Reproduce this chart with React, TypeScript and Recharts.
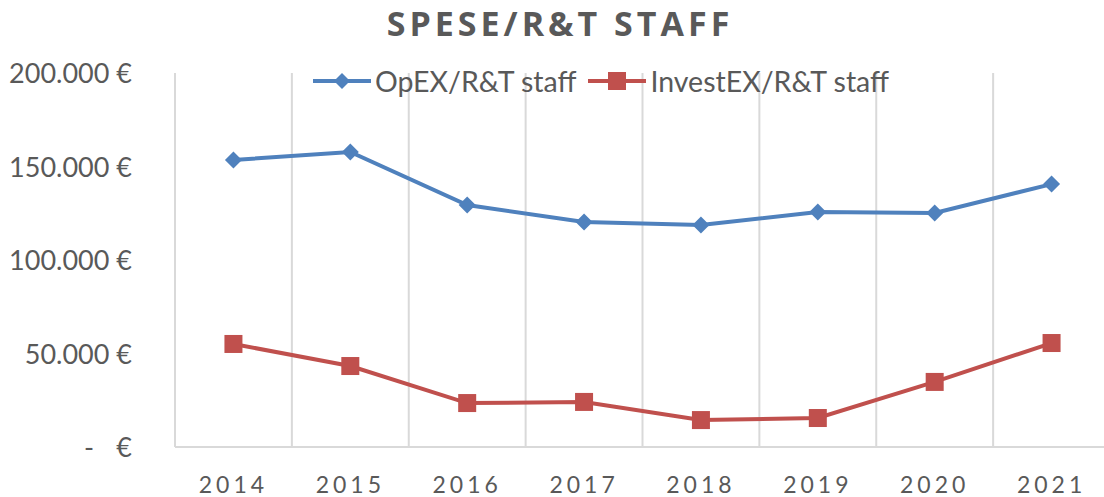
import { LineChart, Line, XAxis, YAxis, CartesianGrid } from 'recharts';

const years = ['2014', '2015', '2016', '2017', '2018', '2019', '2020', '2021'];
const opex = [153500, 157800, 129400, 120300, 118700, 125700, 125100, 140600];
const investex = [55100, 43300, 23500, 24100, 14400, 15500, 34800, 55600];
const yTicks = [0, 50000, 100000, 150000, 200000];

const chartData = years.map((year, i) => ({ year, opex: opex[i], investex: investex[i] }));

const BLUE = '#4f81bd';
const RED = '#c0504d';
const TEXT = '#595959';
const FONT = 'Lato, "Open Sans", sans-serif';

const Diamond = (props: any) => {
  const { cx, cy } = props;
  if (cx == null || cy == null) return null;
  const r = 8.5;
  return <path d={`M${cx},${cy - r}L${cx + r},${cy}L${cx},${cy + r}L${cx - r},${cy}Z`} fill={BLUE} />;
};

const Square = (props: any) => {
  const { cx, cy } = props;
  if (cx == null || cy == null) return null;
  return <rect x={cx - 9} y={cy - 9} width={18} height={18} fill={RED} />;
};

const formatEuro = (v: number) => v.toLocaleString('de-DE');

const YTick = (props: any) => {
  const { x, y, payload } = props;
  const style = { fontFamily: FONT, fontSize: 27, fill: TEXT };
  if (payload.value === 0) {
    return (
      <g>
        <text x={x - 43} y={y} dy={10} textAnchor="middle" style={style}>-</text>
        <text x={x} y={y} dy={10} textAnchor="end" style={style}>€</text>
      </g>
    );
  }
  return (
    <text x={x} y={y} dy={10} textAnchor="end" style={style}>
      {formatEuro(payload.value)} €
    </text>
  );
};

const LegendBox = () => (
  <div
    style={{
      position: 'absolute',
      top: 64,
      left: 313,
      display: 'flex',
      alignItems: 'center',
      fontFamily: FONT,
      fontSize: 28.5,
      color: TEXT,
      whiteSpace: 'nowrap',
    }}
  >
    <svg width={58} height={20}>
      <line x1={0} y1={10} x2={58} y2={10} stroke={BLUE} strokeWidth={4} />
      <path d="M29,2L37,10L29,18L21,10Z" fill={BLUE} />
    </svg>
    <span style={{ marginLeft: 4, marginRight: 12 }}>OpEX/R&amp;T staff</span>
    <svg width={58} height={20}>
      <line x1={0} y1={10} x2={58} y2={10} stroke={RED} strokeWidth={4} />
      <rect x={20} y={1} width={18} height={18} fill={RED} />
    </svg>
    <span style={{ marginLeft: 4 }}>InvestEX/R&amp;T staff</span>
  </div>
);

export default function App() {
  return (
    <div
      style={{
        position: 'fixed',
        left: 0,
        top: 0,
        width: 1104,
        height: 497,
        overflow: 'hidden',
        background: '#fff',
      }}
    >
      <div
        style={{
          position: 'absolute',
          top: 0,
          left: 0,
          width: 1120,
          textAlign: 'center',
          fontFamily: '"Open Sans", sans-serif',
          fontWeight: 700,
          fontSize: 34,
          letterSpacing: 4,
          color: TEXT,
        }}
      >
        SPESE/R&amp;T STAFF
      </div>
      <LineChart
        width={1120}
        height={497}
        data={chartData}
        margin={{ top: 73, right: 10, left: 0, bottom: 0 }}
      >
        <CartesianGrid
          horizontal={false}
          stroke="#d9d9d9"
          strokeWidth={2}
          verticalCoordinatesGenerator={({ offset }: any) =>
            years.map((_, i) => offset.left + (i * offset.width) / years.length)
          }
        />
        <XAxis
          dataKey="year"
          scale="band"
          height={50}
          axisLine={{ stroke: '#d9d9d9', strokeWidth: 2 }}
          tickLine={false}
          tickMargin={24}
          tick={{ fontFamily: FONT, fontSize: 23, fill: TEXT, letterSpacing: 4 }}
        />
        <YAxis
          width={175}
          domain={[0, 200000]}
          ticks={yTicks}
          axisLine={false}
          tickLine={false}
          tickMargin={37}
          tick={<YTick />}
        />
        <Line
          dataKey="opex"
          stroke={BLUE}
          strokeWidth={4}
          dot={<Diamond />}
          activeDot={false}
          isAnimationActive={false}
        />
        <Line
          dataKey="investex"
          stroke={RED}
          strokeWidth={4}
          dot={<Square />}
          activeDot={false}
          isAnimationActive={false}
        />
      </LineChart>
      <LegendBox />
    </div>
  );
}
